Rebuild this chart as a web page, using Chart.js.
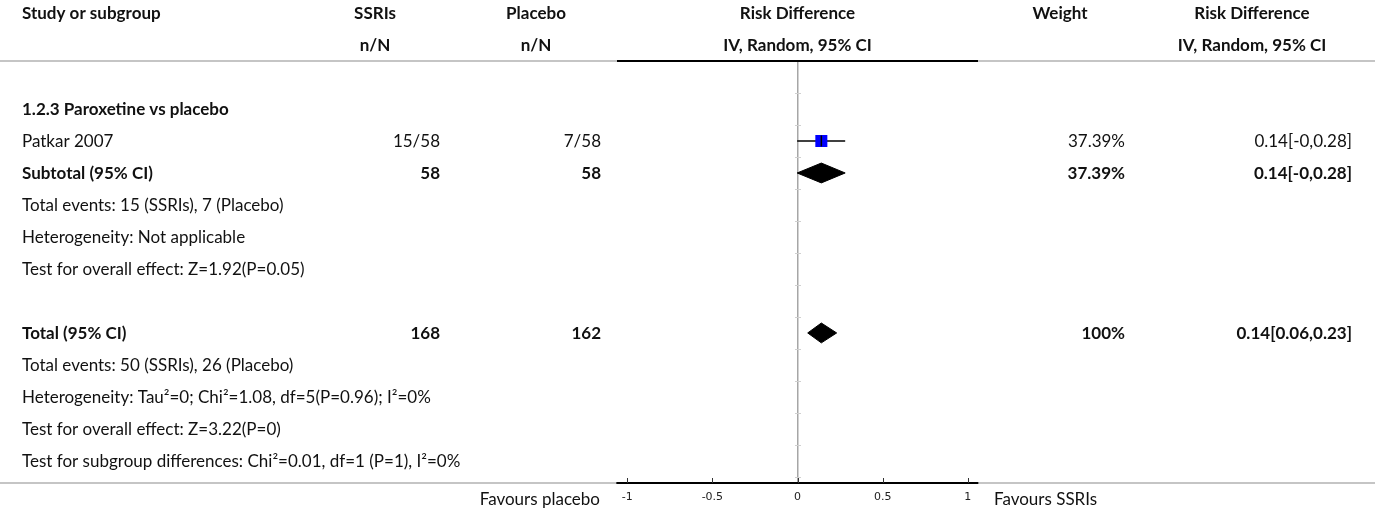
<!DOCTYPE html>
<html>
<head>
<meta charset="utf-8">
<script src="https://cdn.jsdelivr.net/npm/chart.js@4.4.0/dist/chart.umd.min.js"></script>
<style>
  html, body { margin: 0; padding: 0; background: #fff; }
</style>
</head>
<body>
<canvas id="forest" width="1375" height="513"></canvas>
<script>
// column headers
const headerTop = ['Study or subgroup', 'SSRIs', 'Placebo', 'Risk Difference', 'Weight', 'Risk Difference'];
const headerSub = ['', 'n/N', 'n/N', 'IV, Random, 95% CI', '', 'IV, Random, 95% CI'];

// body rows, numbered from the top of the table
const rowNums    = [3, 4, 5, 6, 7, 8, 10, 11, 12, 13, 14];
const rowLabels  = [
  '1.2.3 Paroxetine vs placebo',
  'Patkar 2007',
  'Subtotal (95% CI)',
  'Total events: 15 (SSRIs), 7 (Placebo)',
  'Heterogeneity: Not applicable',
  'Test for overall effect: Z=1.92(P=0.05)',
  'Total (95% CI)',
  'Total events: 50 (SSRIs), 26 (Placebo)',
  'Heterogeneity: Tau\u00b2=0; Chi\u00b2=1.08, df=5(P=0.96); I\u00b2=0%',
  'Test for overall effect: Z=3.22(P=0)',
  'Test for subgroup differences: Chi\u00b2=0.01, df=1 (P=1), I\u00b2=0%'
];
const rowBold    = [true, false, true, false, false, false, true, false, false, false, false];
const ssriCol    = ['', '15/58', '58', '', '', '', '168', '', '', '', ''];
const placeboCol = ['', '7/58', '58', '', '', '', '162', '', '', '', ''];
const weightCol  = ['', '37.39%', '37.39%', '', '', '', '100%', '', '', '', ''];
const rdCol      = ['', '0.14[-0,0.28]', '0.14[-0,0.28]', '', '', '', '0.14[0.06,0.23]', '', '', '', ''];

// single studies
const studyRows = [4];
const studyEst  = [0.14];
const studyLo   = [-0.002];
const studyHi   = [0.28];

// pooled estimates (diamonds)
const poolRows = [5, 10];
const poolEst  = [0.14, 0.14];
const poolLo   = [-0.002, 0.06];
const poolHi   = [0.28, 0.23];

const xTicks = [-1, -0.5, 0, 0.5, 1];

const FONT = 'Lato';
const SIZE = '17px ';
const TEXT = '#111';
const DIAMOND_H = 0.31; // half height in row units

const datasets = [];

// point estimate tick on top of the square
datasets.push({
  data: studyRows.map((r, i) => ({ x: studyEst[i], y: r })),
  pointStyle: 'line', rotation: 90, pointRadius: 5.5,
  borderColor: '#000', borderWidth: 1.5, showLine: false
});
// study squares
datasets.push({
  data: studyRows.map((r, i) => ({ x: studyEst[i], y: r })),
  pointStyle: 'rect', pointRadius: 8.5,
  backgroundColor: '#0000ff', borderColor: '#0000ff', borderWidth: 0, showLine: false
});
// confidence intervals
studyRows.forEach((r, i) => {
  datasets.push({
    data: [{ x: studyLo[i], y: r }, { x: studyHi[i], y: r }],
    showLine: true, borderColor: '#000', borderWidth: 1.5, pointRadius: 0
  });
});
// diamonds
poolRows.forEach((r, i) => {
  datasets.push({
    data: [
      { x: poolLo[i], y: r },
      { x: poolEst[i], y: r - DIAMOND_H },
      { x: poolHi[i], y: r },
      { x: poolEst[i], y: r + DIAMOND_H },
      { x: poolLo[i], y: r }
    ],
    showLine: true, fill: 'shape', tension: 0,
    backgroundColor: '#000', borderColor: '#000', borderWidth: 1, pointRadius: 0
  });
});

// table text, rules and small axis ticks
const tablePlugin = {
  id: 'table',
  afterDraw(chart) {
    const { ctx, chartArea } = chart;
    const xs = chart.scales.x, ys = chart.scales.y;
    const W = chart.width;
    ctx.save();

    // rules
    ctx.strokeStyle = '#8c8c8c';
    ctx.lineWidth = 1.2;
    [chartArea.top, chartArea.bottom].forEach(y => {
      ctx.beginPath();
      ctx.moveTo(0, y); ctx.lineTo(chartArea.left, y);
      ctx.moveTo(chartArea.right, y); ctx.lineTo(W, y);
      ctx.stroke();
    });
    ctx.strokeStyle = '#000';
    ctx.lineWidth = 2;
    ctx.beginPath();
    ctx.moveTo(chartArea.left, chartArea.top); ctx.lineTo(chartArea.right, chartArea.top);
    ctx.stroke();

    // row marks on the line of no effect
    const x0 = Math.round(xs.getPixelForValue(0));
    ctx.strokeStyle = '#d0d0d0';
    ctx.lineWidth = 1;
    for (let r = 2.5; r < ys.max; r += 1) {
      const y = Math.round(ys.getPixelForValue(r)) + 0.5;
      ctx.beginPath();
      ctx.moveTo(x0 - 3, y); ctx.lineTo(x0 + 3, y);
      ctx.stroke();
    }

    // small upward ticks on the axis
    ctx.strokeStyle = '#333';
    xTicks.forEach(v => {
      const x = Math.round(xs.getPixelForValue(v)) + 0.5;
      ctx.beginPath();
      ctx.moveTo(x, chartArea.bottom - 5); ctx.lineTo(x, chartArea.bottom);
      ctx.stroke();
    });

    // columns: header anchor and value anchor
    const head = [
      { x: 22, align: 'left' },
      { x: 375, align: 'center' },
      { x: 536, align: 'center' },
      { x: (chartArea.left + chartArea.right) / 2, align: 'center' },
      { x: 1060, align: 'center' },
      { x: 1252, align: 'center' }
    ];
    const body = [
      { x: 22, align: 'left' },
      { x: 440, align: 'right' },
      { x: 601, align: 'right' },
      null,
      { x: 1125, align: 'right' },
      { x: 1352, align: 'right' }
    ];
    ctx.fillStyle = TEXT;
    ctx.textBaseline = 'middle';

    ctx.font = 'bold ' + SIZE + FONT;
    [headerTop, headerSub].forEach((row, ri) => {
      const y = ys.getPixelForValue(ri) + 1;
      row.forEach((t, ci) => {
        if (!t) return;
        ctx.textAlign = head[ci].align;
        ctx.fillText(t, head[ci].x, y);
      });
    });

    rowNums.forEach((r, i) => {
      const y = ys.getPixelForValue(r) + 1;
      ctx.font = (rowBold[i] ? 'bold ' : '') + SIZE + FONT;
      const cells = [rowLabels[i], ssriCol[i], placeboCol[i], '', weightCol[i], rdCol[i]];
      cells.forEach((t, ci) => {
        if (!t) return;
        ctx.textAlign = body[ci].align;
        ctx.fillText(t, body[ci].x, y);
      });
    });

    // favours labels
    ctx.font = SIZE + FONT;
    const fy = chartArea.bottom + 17;
    ctx.textAlign = 'right';
    ctx.fillText('Favours placebo', chartArea.left - 17, fy);
    ctx.textAlign = 'left';
    ctx.fillText('Favours SSRIs', chartArea.right + 16, fy);

    ctx.restore();
  }
};

new Chart(document.getElementById('forest'), {
  type: 'scatter',
  data: { datasets },
  options: {
    responsive: false,
    animation: false,
    events: [],
    layout: { padding: { left: 617, right: 397, top: 61, bottom: 0 } },
    plugins: { legend: { display: false }, tooltip: { enabled: false } },
    scales: {
      x: {
        type: 'linear',
        min: -1.06,
        max: 1.06,
        afterBuildTicks: s => { s.ticks = xTicks.map(v => ({ value: v })); },
        afterFit: s => { s.height = 30; },
        grid: {
          drawTicks: false,
          lineWidth: 1.5,
          color: c => (c.tick && c.tick.value === 0 ? '#a6a6a6' : 'rgba(0,0,0,0)')
        },
        border: { color: '#000', width: 2 },
        ticks: {
          padding: 8,
          autoSkip: false,
          maxRotation: 0,
          color: '#222',
          font: { family: 'DejaVu Sans', size: 11 },
          callback: v => String(v)
        }
      },
      y: {
        type: 'linear',
        reverse: true,
        min: 1.5,
        max: 14.69,
        display: false
      }
    }
  },
  plugins: [tablePlugin]
});
</script>
</body>
</html>
